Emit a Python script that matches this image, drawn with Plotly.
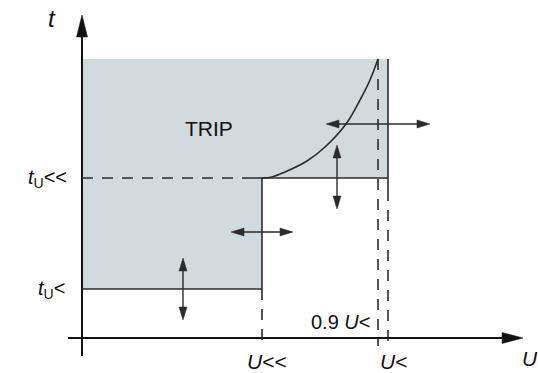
import plotly.graph_objects as go

# Characteristic levels, schematic units with the origin at the axes crossing
U_LL = 180      # U<<
U_09 = 296      # 0.9 U<
U_L = 306       # U<
T_L = 49        # tU<
T_LL = 160      # tU<<
T_TOP = 279     # upper edge of the trip area

# Inverse-time characteristic between U<< and 0.9 U<
curve_u = [180, 190, 203, 225, 243, 264, 278, 288, 296]
curve_t = [160, 161, 166, 177, 191, 214, 238, 258, 279]

# Tick-style labels
x_labels = ["<i>U</i>&lt;&lt;", "<i>U</i>&lt;"]
y_labels = ["<i>t</i><sub>U</sub>&lt;", "<i>t</i><sub>U</sub>&lt;&lt;"]

FILL = "#d1dbde"
LINE = "#2b2b2b"
AXIS = "#111111"
FONT = "Liberation Sans, Arial, sans-serif"

fig = go.Figure()

# Trip area
fig.add_trace(go.Scatter(
    x=[0, U_LL, U_LL, U_L, U_L, 0, 0],
    y=[T_L, T_L, T_LL, T_LL, T_TOP, T_TOP, T_L],
    fill="toself", fillcolor=FILL, mode="none", hoverinfo="skip",
))

# Characteristic curve
fig.add_trace(go.Scatter(
    x=curve_u, y=curve_t, mode="lines", hoverinfo="skip",
    line=dict(color=LINE, width=1.6, shape="spline", smoothing=1.0),
))

shapes = []


def seg(x0, y0, x1, y1, width=1.6, color=LINE, dash="solid"):
    shapes.append(dict(type="line", xref="x", yref="y", x0=x0, y0=y0, x1=x1, y1=y1,
                       line=dict(color=color, width=width, dash=dash)))


def head(tx, ty, dx, dy, length, half_w, color=LINE):
    bx, by = tx - dx * length, ty - dy * length
    px, py = -dy * half_w, dx * half_w
    path = (f"M {tx},{ty} L {bx + px},{by + py} L {bx - px},{by - py} Z")
    shapes.append(dict(type="path", xref="x", yref="y", path=path,
                       fillcolor=color, line=dict(color=color, width=0.5)))


def double_arrow(cx, cy, half, vertical):
    dx, dy = (0, 1) if vertical else (1, 0)
    seg(cx - dx * (half - 6), cy - dy * (half - 6), cx + dx * (half - 6), cy + dy * (half - 6), width=1.4)
    head(cx + dx * half, cy + dy * half, dx, dy, 13, 4)
    head(cx - dx * half, cy - dy * half, -dx, -dy, 13, 4)


DASH = "11px,9px"
over = 12   # how far the solid edge lines run past a corner
below = 8   # how far the dashed guides run below the U axis

# Axes with arrow heads
seg(0, -18, 0, 305, width=2, color=AXIS)
head(0, 323, 0, 1, 22, 5.5, color=AXIS)
seg(-14, 0, 425, 0, width=2, color=AXIS)
head(441, 0, 1, 0, 21, 5.5, color=AXIS)

# Time levels
seg(0, T_L, U_LL, T_L)
seg(0, T_LL, U_LL - over, T_LL, dash=DASH)
seg(U_LL - over, T_LL, U_L, T_LL)

# Voltage levels
seg(U_LL, T_L, U_LL, T_LL)
seg(U_LL, T_L, U_LL, -below, dash=DASH)
seg(U_L, T_LL - over, U_L, T_TOP)
seg(U_L, T_LL - over, U_L, -below, dash=DASH)
seg(U_09, T_TOP, U_09, -below, dash=DASH)

# Setting arrows
double_arrow(101, T_L, 31, True)
double_arrow(U_LL, 106, 31, False)
double_arrow(U_09, 214, 52, False)
double_arrow(255, T_LL + 1, 32, True)

annotations = [
    dict(x=-30, y=320, text="<i>t</i>", font=dict(size=24)),
    dict(x=-13, y=T_LL, text=y_labels[1], xanchor="right", font=dict(size=20)),
    dict(x=-15, y=T_L, text=y_labels[0], xanchor="right", font=dict(size=20)),
    dict(x=U_LL + 5, y=-23, text=x_labels[0], font=dict(size=21)),
    dict(x=U_L + 5, y=-23, text=x_labels[1], font=dict(size=21)),
    dict(x=438, y=-20, text="<i>U</i>", xanchor="left", font=dict(size=21)),
    dict(x=U_09 - 5, y=16, text="0.9 <i>U</i>&lt;", xanchor="right", font=dict(size=20)),
    dict(x=127, y=210, text="TRIP", font=dict(size=21)),
]
for a in annotations:
    a.update(xref="x", yref="y", showarrow=False)
    a["font"] = dict(family=FONT, color="#111111", **a["font"])

fig.update_layout(
    width=538, height=373,
    margin=dict(l=0, r=0, t=0, b=0),
    paper_bgcolor="white", plot_bgcolor="white",
    showlegend=False,
    xaxis=dict(range=[-82, 456], visible=False, fixedrange=True),
    yaxis=dict(range=[-35, 338], visible=False, fixedrange=True),
    shapes=shapes,
    annotations=annotations,
)

fig.write_html("out.html")
